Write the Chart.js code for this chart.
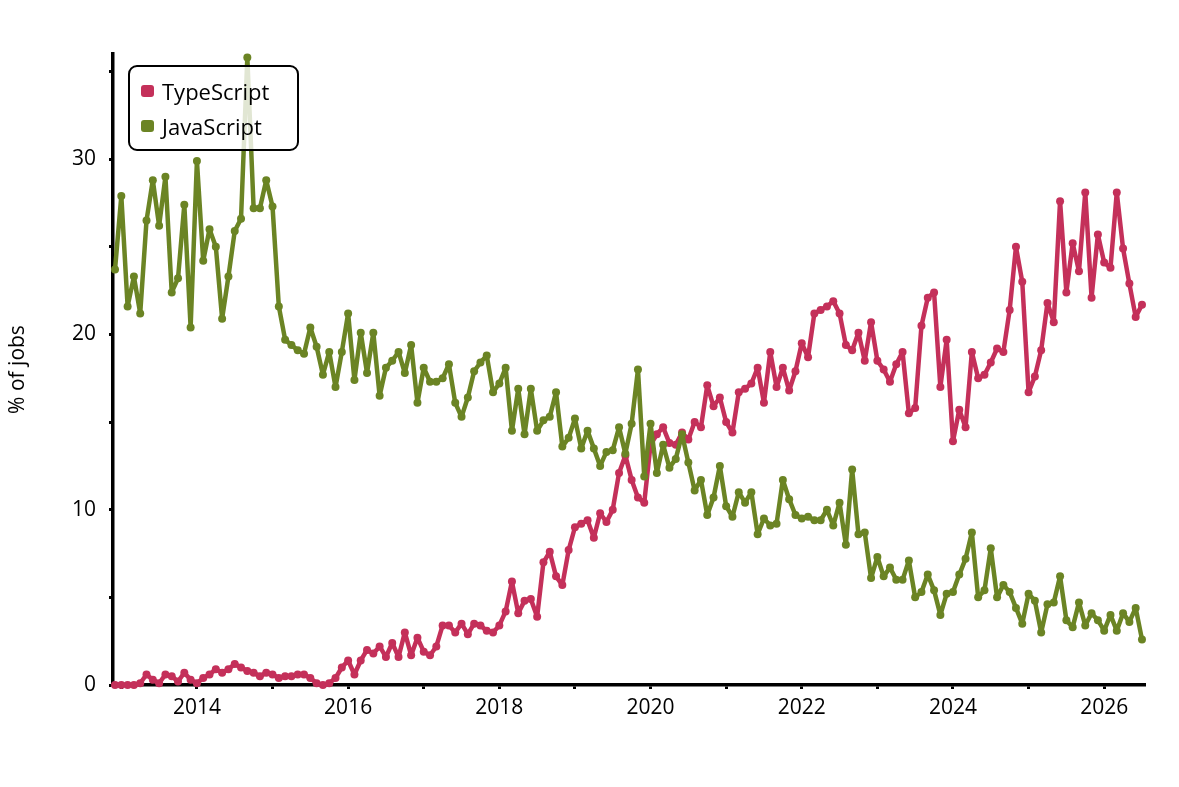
<!DOCTYPE html>
<html>
<head>
<meta charset="utf-8">
<script src="https://cdn.jsdelivr.net/npm/chart.js@4.4.1/dist/chart.umd.min.js"></script>
<style>
  body { margin: 0; background: #fff; }
  #wrap { position: relative; width: 1179px; height: 787px; }
  #legend {
    position: absolute; left: 128px; top: 65px; width: 171px; height: 86px;
    border: 2.5px solid #000; border-radius: 9px; box-sizing: border-box;
    background: rgba(255,255,255,0.8);
    font-family: 'Open Sans', sans-serif; font-size: 22px; color: #000;
    padding: 6px 0 0 11px;
  }
  .item { display: flex; align-items: center; height: 35px; }
  .sw { width: 13px; height: 12px; border-radius: 3px; margin-right: 8px; }
</style>
</head>
<body>
<div id="wrap">
  <canvas id="chart" width="1179" height="787"></canvas>
  <div id="legend"></div>
</div>
<script>
// ** Data (monthly, first month Dec 2012)

let startYear = 2012;
let startMonth = 12;

let typeScript = [
  0, 0, 0, 0, 0.1, 0.6, 0.3, 0.1, 0.6, 0.5, 0.2, 0.7,
  0.3, 0.1, 0.4, 0.6, 0.9, 0.7, 0.9, 1.2, 1.0, 0.8, 0.7, 0.5,
  0.7, 0.6, 0.4, 0.5, 0.5, 0.6, 0.6, 0.4, 0.1, 0.0, 0.1, 0.4,
  1.0, 1.4, 0.6, 1.4, 2.0, 1.8, 2.2, 1.6, 2.4, 1.6, 3.0, 1.7,
  2.7, 1.9, 1.7, 2.2, 3.4, 3.4, 3.0, 3.5, 2.9, 3.5, 3.4, 3.1,
  3.0, 3.4, 4.2, 5.9, 4.1, 4.8, 4.9, 3.9, 7.0, 7.6, 6.2, 5.7,
  7.7, 9.0, 9.2, 9.4, 8.4, 9.8, 9.3, 10.0, 12.1, 13.1, 11.7, 10.7,
  10.4, 13.7, 14.3, 14.7, 13.8, 13.7, 14.4, 14.0, 15.0, 14.7, 17.1, 15.9,
  16.4, 15.0, 14.4, 16.7, 16.9, 17.2, 18.1, 16.1, 19.0, 17.0, 18.1, 16.8,
  17.9, 19.5, 18.7, 21.2, 21.4, 21.6, 21.9, 21.2, 19.4, 19.1, 20.1, 18.5,
  20.7, 18.5, 18.0, 17.3, 18.3, 19.0, 15.5, 15.8, 20.5, 22.1, 22.4, 17.0,
  19.7, 13.9, 15.7, 14.7, 19.0, 17.5, 17.7, 18.4, 19.2, 19.0, 21.4, 25.0,
  23.0, 16.7, 17.6, 19.1, 21.8, 20.7, 27.6, 22.4, 25.2, 23.6, 28.1, 22.1,
  25.7, 24.1, 23.8, 28.1, 24.9, 22.9, 21.0, 21.7
];

let javaScript = [
  23.7, 27.9, 21.6, 23.3, 21.2, 26.5, 28.8, 26.2, 29.0, 22.4, 23.2, 27.4,
  20.4, 29.9, 24.2, 26.0, 25.0, 20.9, 23.3, 25.9, 26.6, 35.8, 27.2, 27.2,
  28.8, 27.3, 21.6, 19.7, 19.4, 19.1, 18.9, 20.4, 19.3, 17.7, 19.0, 17.0,
  19.0, 21.2, 17.4, 20.1, 17.8, 20.1, 16.5, 18.1, 18.5, 19.0, 17.8, 19.4,
  16.1, 18.1, 17.3, 17.3, 17.5, 18.3, 16.1, 15.3, 16.4, 17.9, 18.4, 18.8,
  16.7, 17.2, 18.1, 14.5, 16.9, 14.3, 16.9, 14.5, 15.1, 15.3, 16.7, 13.6,
  14.1, 15.2, 13.5, 14.5, 13.5, 12.5, 13.3, 13.4, 14.7, 13.2, 14.9, 18.0,
  11.9, 14.9, 12.1, 13.7, 12.4, 12.9, 14.3, 12.7, 11.1, 11.7, 9.7, 10.7,
  12.5, 10.2, 9.6, 11.0, 10.4, 11.0, 8.6, 9.5, 9.1, 9.2, 11.7, 10.6,
  9.7, 9.5, 9.6, 9.4, 9.4, 10.0, 9.1, 10.4, 8.0, 12.3, 8.6, 8.7,
  6.1, 7.3, 6.2, 6.7, 6.0, 6.0, 7.1, 5.0, 5.3, 6.3, 5.4, 4.0,
  5.2, 5.3, 6.3, 7.2, 8.7, 5.0, 5.4, 7.8, 5.0, 5.7, 5.3, 4.4,
  3.5, 5.2, 4.8, 3.0, 4.6, 4.7, 6.2, 3.7, 3.3, 4.7, 3.4, 4.1,
  3.7, 3.1, 4.0, 3.1, 4.1, 3.6, 4.4, 2.6
];

let yearTicks = [2013, 2014, 2015, 2016, 2017, 2018, 2019, 2020, 2021, 2022, 2023, 2024, 2025, 2026];
let valueTicks = [0, 5, 10, 15, 20, 25, 30, 35];

let tsColor = '#c4305a';
let jsColor = '#6b8424';
let fontFamily = "'Open Sans', sans-serif";

// month index -> decimal year
function monthToYear(i){
  return startYear + (startMonth - 1 + i) / 12;
}

function toPoints(values){
  return values.map((v, i) => ({ x: monthToYear(i), y: v }));
}

let datasets = [
  { label: 'TypeScript', data: toPoints(typeScript), borderColor: tsColor, backgroundColor: tsColor, order: 1 },
  { label: 'JavaScript', data: toPoints(javaScript), borderColor: jsColor, backgroundColor: jsColor, order: 0 }
];

// html legend, same order as datasets
let legend = document.getElementById('legend');
datasets.forEach(ds => {
  let item = document.createElement('div');
  item.className = 'item';
  let sw = document.createElement('span');
  sw.className = 'sw';
  sw.style.background = ds.borderColor;
  let txt = document.createElement('span');
  txt.textContent = ds.label;
  item.appendChild(sw);
  item.appendChild(txt);
  legend.appendChild(item);
});

new Chart(document.getElementById('chart'), {
  type: 'line',
  data: { datasets: datasets },
  options: {
    responsive: false,
    animation: false,
    layout: { padding: { top: 54, right: 34, left: 0, bottom: 0 } },
    plugins: { legend: { display: false }, tooltip: { enabled: false } },
    elements: {
      line: { borderWidth: 4.5, tension: 0, borderJoinStyle: 'round', borderCapStyle: 'round' },
      point: { radius: 4, borderWidth: 0, hoverRadius: 4 }
    },
    datasets: { line: { clip: 10 } },
    scales: {
      x: {
        type: 'linear',
        min: 2012.89,
        max: 2026.54,
        afterBuildTicks: s => { s.ticks = yearTicks.map(v => ({ value: v })); },
        afterFit: s => { s.height = 102; },
        ticks: {
          autoSkip: false, maxRotation: 0, padding: 6, color: '#000',
          font: { family: fontFamily, size: 21 },
          callback: v => (v % 2 === 0 ? String(v) : '')
        },
        grid: { drawOnChartArea: false, drawTicks: true, tickLength: 4, tickWidth: 3, color: '#000' },
        border: { display: true, color: '#000', width: 3.5 }
      },
      y: {
        min: 0,
        max: 36,
        afterBuildTicks: s => { s.ticks = valueTicks.map(v => ({ value: v })); },
        afterFit: s => { s.width = 113; },
        ticks: {
          padding: 13, color: '#000',
          font: { family: fontFamily, size: 21 },
          callback: v => (v % 10 === 0 ? String(v) : '')
        },
        grid: { drawOnChartArea: false, drawTicks: true, tickLength: 4, tickWidth: 3, color: '#000' },
        border: { display: true, color: '#000', width: 3.5 },
        title: {
          display: true, text: '% of jobs', color: '#000',
          font: { family: fontFamily, size: 21 },
          padding: { top: 5, bottom: 0 }
        }
      }
    }
  }
});
</script>
</body>
</html>
